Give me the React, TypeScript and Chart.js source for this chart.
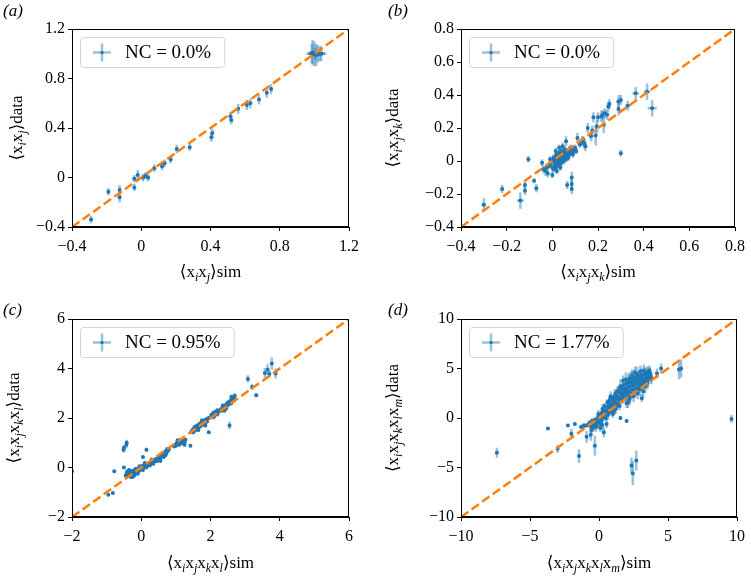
import React, { useEffect, useRef } from "react";
import { Chart, registerables } from "chart.js";
Chart.register(...registerables);

type Pt = [number, number, number, number]; // sim, data, simErr, dataErr

const SERIF = "'Liberation Serif', 'DejaVu Serif', 'Times New Roman', serif";
const BLUE = "#1f77b4";
const ERR = "rgba(31,119,180,0.45)";
const ORANGE = "#ff7f0e";

// ---- tick values ----
const ticksA = [-0.4, 0, 0.4, 0.8, 1.2];
const ticksB = [-0.4, -0.2, 0, 0.2, 0.4, 0.6, 0.8];
const ticksC = [-2, 0, 2, 4, 6];
const ticksD = [-10, -5, 0, 5, 10];

// ---- legend / panel labels ----
const legendA = "NC = 0.0%";
const legendB = "NC = 0.0%";
const legendC = "NC = 0.95%";
const legendD = "NC = 1.77%";
const panelLabels = ["(a)", "(b)", "(c)", "(d)"];

// ---- axis title pieces: [text, isSubscript] ----
const segsA: [string, boolean][] = [["\u27E8x", false], ["i", true], ["x", false], ["j", true], ["\u27E9", false]];
const segsB: [string, boolean][] = [["\u27E8x", false], ["i", true], ["x", false], ["j", true], ["x", false], ["k", true], ["\u27E9", false]];
const segsC: [string, boolean][] = [["\u27E8x", false], ["i", true], ["x", false], ["j", true], ["x", false], ["k", true], ["x", false], ["l", true], ["\u27E9", false]];
const segsD: [string, boolean][] = [["\u27E8x", false], ["i", true], ["x", false], ["j", true], ["x", false], ["k", true], ["x", false], ["l", true], ["x", false], ["m", true], ["\u27E9", false]];

// ---- data: [sim, data, simErr, dataErr] ----
const pointsA: Pt[] = [
  [-0.29, -0.34, 0.01, 0.03], [-0.19, -0.115, 0.005, 0.03], [-0.125, -0.1, 0.005, 0.04],
  [-0.125, -0.16, 0.005, 0.04], [-0.04, -0.08, 0.005, 0.03], [-0.04, -0.01, 0.01, 0.03],
  [-0.02, 0.02, 0.005, 0.04], [0.01, 0.0, 0.01, 0.03], [0.025, 0.015, 0.005, 0.03],
  [0.04, 0.0, 0.005, 0.03], [0.075, 0.075, 0.005, 0.03], [0.12, 0.09, 0.005, 0.03],
  [0.135, 0.115, 0.005, 0.03], [0.17, 0.145, 0.005, 0.03], [0.205, 0.23, 0.005, 0.035],
  [0.28, 0.245, 0.005, 0.03], [0.405, 0.325, 0.005, 0.035], [0.41, 0.36, 0.005, 0.035],
  [0.515, 0.495, 0.005, 0.035], [0.52, 0.465, 0.005, 0.035], [0.56, 0.555, 0.005, 0.04],
  [0.61, 0.585, 0.005, 0.04], [0.63, 0.6, 0.005, 0.04], [0.68, 0.63, 0.005, 0.04],
  [0.725, 0.685, 0.005, 0.04], [0.75, 0.715, 0.005, 0.04],
  [0.985, 1.0, 0.03, 0.08], [1.0, 1.0, 0.04, 0.1], [1.01, 0.99, 0.03, 0.09],
  [1.02, 1.0, 0.05, 0.07], [1.03, 1.0, 0.03, 0.06], [0.99, 1.01, 0.02, 0.1],
  [1.005, 1.0, 0.04, 0.05], [1.04, 1.0, 0.02, 0.06],
];

const pointsB: Pt[] = [
  [-0.3, -0.265, 0.01, 0.04], [-0.22, -0.17, 0.005, 0.025], [-0.14, -0.24, 0.015, 0.05],
  [-0.12, -0.145, 0.005, 0.025], [-0.12, -0.18, 0.005, 0.025], [-0.105, 0.01, 0.005, 0.02],
  [-0.08, -0.12, 0.005, 0.015], [-0.07, -0.165, 0.005, 0.025], [-0.045, -0.01, 0.005, 0.02],
  [-0.04, -0.05, 0.005, 0.025], [-0.03, -0.06, 0.005, 0.03], [-0.025, -0.04, 0.005, 0.02],
  [-0.02, -0.075, 0.005, 0.025], [0.0, -0.085, 0.005, 0.02], [0.065, -0.145, 0.005, 0.025],
  [0.085, -0.1, 0.005, 0.035], [0.085, -0.14, 0.005, 0.03], [0.085, -0.17, 0.005, 0.03],
  [0.06, 0.12, 0.005, 0.03], [0.11, 0.14, 0.005, 0.03], [0.13, 0.12, 0.005, 0.03],
  [0.14, 0.105, 0.005, 0.03], [0.145, 0.09, 0.005, 0.03], [0.155, 0.2, 0.005, 0.03],
  [0.17, 0.15, 0.005, 0.03], [0.175, 0.185, 0.005, 0.03], [0.18, 0.265, 0.005, 0.03],
  [0.19, 0.155, 0.005, 0.06], [0.195, 0.21, 0.005, 0.04], [0.2, 0.265, 0.005, 0.03],
  [0.215, 0.27, 0.005, 0.035], [0.22, 0.28, 0.005, 0.03], [0.225, 0.22, 0.008, 0.05],
  [0.23, 0.29, 0.005, 0.03], [0.24, 0.28, 0.005, 0.03], [0.245, 0.33, 0.005, 0.03],
  [0.25, 0.345, 0.005, 0.03], [0.29, 0.315, 0.008, 0.04], [0.29, 0.36, 0.01, 0.04],
  [0.3, 0.37, 0.005, 0.03], [0.3, 0.047, 0.005, 0.02], [0.33, 0.335, 0.01, 0.03],
  [0.365, 0.41, 0.015, 0.04], [0.415, 0.42, 0.015, 0.05], [0.437, 0.32, 0.02, 0.05],
  [0.09, 0.07, 0.005, 0.02], [0.1, 0.08, 0.005, 0.02], [0.105, 0.06, 0.005, 0.02],
  [0.12, 0.1, 0.005, 0.02], [0.125, 0.11, 0.005, 0.02], [0.135, 0.13, 0.005, 0.02],
  [0.0, 0.0, 0.005, 0.02], [0.005, 0.02, 0.005, 0.02], [0.01, 0.01, 0.005, 0.02],
  [0.01, -0.01, 0.005, 0.02], [0.015, 0.03, 0.005, 0.02], [0.02, 0.0, 0.005, 0.02],
  [0.02, 0.04, 0.005, 0.02], [0.025, 0.02, 0.005, 0.02], [0.03, 0.05, 0.005, 0.02],
  [0.03, 0.01, 0.005, 0.02], [0.035, 0.03, 0.005, 0.02], [0.04, 0.06, 0.005, 0.02],
  [0.04, 0.02, 0.005, 0.02], [0.045, 0.04, 0.005, 0.02], [0.05, 0.05, 0.005, 0.02],
  [0.05, 0.03, 0.005, 0.02], [0.055, 0.07, 0.005, 0.02], [0.06, 0.04, 0.005, 0.02],
  [0.065, 0.06, 0.005, 0.02], [0.07, 0.05, 0.005, 0.02], [0.075, 0.07, 0.005, 0.02],
  [0.08, 0.08, 0.005, 0.02], [-0.01, -0.02, 0.005, 0.02], [-0.01, 0.01, 0.005, 0.02],
  [-0.015, -0.03, 0.005, 0.02], [0.0, -0.04, 0.005, 0.02], [0.005, -0.05, 0.005, 0.02],
  [0.01, -0.02, 0.005, 0.02], [0.015, -0.04, 0.005, 0.02], [0.02, -0.03, 0.005, 0.02],
  [0.025, -0.01, 0.005, 0.02], [0.03, -0.02, 0.005, 0.02], [0.035, 0.0, 0.005, 0.02],
  [0.04, -0.01, 0.005, 0.02], [0.045, 0.01, 0.005, 0.02], [0.05, 0.0, 0.005, 0.02],
  [0.055, 0.02, 0.005, 0.02], [0.06, 0.01, 0.005, 0.02], [0.065, 0.03, 0.005, 0.02],
  [0.07, 0.02, 0.005, 0.02], [0.075, 0.04, 0.005, 0.02], [0.085, 0.05, 0.005, 0.02],
  [0.09, 0.04, 0.005, 0.02], [0.095, 0.06, 0.005, 0.02], [0.015, 0.06, 0.005, 0.02],
  [0.03, 0.08, 0.005, 0.02], [0.045, 0.09, 0.005, 0.02], [0.02, -0.06, 0.005, 0.02],
  [0.035, -0.04, 0.005, 0.02],
];

const pointsC: Pt[] = [
  [-2.0, -0.15, 0.02, 0.08], [-0.95, -1.1, 0.02, 0.05], [-0.82, -1.03, 0.02, 0.05],
  [-0.78, -0.15, 0.02, 0.04], [-0.51, 0.72, 0.02, 0.12], [-0.5, 0.8, 0.02, 0.1],
  [-0.43, 0.92, 0.02, 0.15], [-0.42, 1.0, 0.02, 0.12], [-0.5, 0.0, 0.02, 0.04],
  [0.15, 0.72, 0.02, 0.08], [0.05, 0.42, 0.02, 0.04], [0.55, 0.26, 0.02, 0.04],
  [-0.45, -0.32, 0.02, 0.06], [-0.42, -0.22, 0.02, 0.06], [-0.4, -0.28, 0.02, 0.06],
  [-0.38, -0.18, 0.02, 0.06], [-0.36, -0.3, 0.02, 0.06], [-0.34, -0.24, 0.02, 0.06],
  [-0.32, -0.35, 0.02, 0.06], [-0.3, -0.2, 0.02, 0.06], [-0.28, -0.27, 0.02, 0.06],
  [-0.27, -0.15, 0.02, 0.06], [-0.25, -0.3, 0.02, 0.06], [-0.23, -0.22, 0.02, 0.06],
  [-0.22, -0.12, 0.02, 0.06], [-0.2, -0.25, 0.02, 0.06], [-0.18, -0.18, 0.02, 0.06],
  [-0.17, -0.08, 0.02, 0.06], [-0.15, -0.2, 0.02, 0.06], [-0.13, -0.12, 0.02, 0.06],
  [-0.12, -0.22, 0.02, 0.06], [-0.1, -0.1, 0.02, 0.06], [-0.08, -0.15, 0.02, 0.06],
  [-0.07, -0.05, 0.02, 0.06], [-0.05, -0.12, 0.02, 0.06], [-0.03, -0.02, 0.02, 0.06],
  [-0.02, -0.08, 0.02, 0.06], [0.0, 0.0, 0.02, 0.06], [0.0, -0.06, 0.02, 0.06],
  [-0.25, -0.38, 0.02, 0.06], [-0.15, -0.05, 0.02, 0.06], [-0.35, -0.1, 0.02, 0.06],
  [0.02, 0.05, 0.02, 0.06], [0.04, -0.02, 0.02, 0.06], [0.06, 0.08, 0.02, 0.06],
  [0.08, 0.02, 0.02, 0.06], [0.1, 0.1, 0.02, 0.06], [0.12, 0.05, 0.02, 0.06],
  [0.14, 0.12, 0.02, 0.06], [0.16, 0.08, 0.02, 0.06], [0.18, 0.15, 0.02, 0.06],
  [0.2, 0.1, 0.02, 0.06], [0.22, 0.18, 0.02, 0.06], [0.24, 0.14, 0.02, 0.06],
  [0.26, 0.2, 0.02, 0.06], [0.28, 0.17, 0.02, 0.06], [0.3, 0.24, 0.02, 0.06],
  [0.32, 0.2, 0.02, 0.06], [0.35, 0.27, 0.02, 0.06], [0.38, 0.25, 0.02, 0.06],
  [0.4, 0.32, 0.02, 0.06], [0.42, 0.3, 0.02, 0.06], [0.45, 0.36, 0.02, 0.06],
  [0.48, 0.34, 0.02, 0.06], [0.5, 0.4, 0.02, 0.06], [0.52, 0.45, 0.02, 0.06],
  [0.55, 0.42, 0.02, 0.06], [0.58, 0.5, 0.02, 0.06], [0.6, 0.47, 0.02, 0.06],
  [0.63, 0.55, 0.02, 0.06], [0.65, 0.52, 0.02, 0.06], [0.68, 0.6, 0.02, 0.06],
  [0.7, 0.65, 0.02, 0.06], [0.72, 0.58, 0.02, 0.06], [0.74, 0.7, 0.02, 0.06],
  [0.76, 0.66, 0.02, 0.06], [0.78, 0.72, 0.02, 0.06], [0.8, 0.75, 0.02, 0.06],
  [0.75, 0.75, 0.02, 0.06], [0.95, 0.85, 0.02, 0.06], [0.98, 0.92, 0.02, 0.06],
  [1.0, 0.88, 0.02, 0.06], [1.02, 0.98, 0.02, 0.06], [1.05, 0.95, 0.02, 0.06],
  [1.08, 1.02, 0.02, 0.06], [1.1, 0.92, 0.02, 0.06], [1.12, 1.05, 0.02, 0.06],
  [1.15, 1.0, 0.02, 0.06], [1.18, 1.08, 0.02, 0.06], [1.2, 0.98, 0.02, 0.06],
  [1.22, 1.1, 0.02, 0.06], [1.25, 1.02, 0.02, 0.06], [1.28, 1.12, 0.02, 0.06],
  [1.42, 0.88, 0.02, 0.06], [1.45, 1.45, 0.02, 0.08], [1.48, 1.52, 0.02, 0.08],
  [1.5, 1.42, 0.02, 0.08], [1.52, 1.58, 0.02, 0.08], [1.55, 1.5, 0.02, 0.08],
  [1.58, 1.62, 0.02, 0.08], [1.6, 1.55, 0.02, 0.08], [1.62, 1.7, 0.02, 0.08],
  [1.65, 1.6, 0.02, 0.08], [1.68, 1.75, 0.02, 0.08], [1.7, 1.66, 0.02, 0.08],
  [1.72, 1.8, 0.02, 0.08], [1.75, 1.72, 0.02, 0.08], [1.78, 1.85, 0.02, 0.08],
  [1.8, 1.78, 0.02, 0.08], [1.82, 1.9, 0.02, 0.08], [1.85, 1.82, 0.02, 0.08],
  [1.88, 1.95, 0.02, 0.08], [1.9, 1.86, 0.02, 0.08], [1.95, 1.42, 0.02, 0.06],
  [2.02, 2.12, 0.02, 0.1], [2.05, 2.05, 0.02, 0.1], [2.08, 2.2, 0.02, 0.1],
  [2.1, 2.15, 0.02, 0.1], [2.15, 2.25, 0.02, 0.1], [2.18, 2.2, 0.02, 0.1],
  [2.2, 2.3, 0.02, 0.1], [2.25, 2.28, 0.02, 0.1], [2.3, 2.35, 0.02, 0.1],
  [2.32, 2.3, 0.02, 0.1], [2.38, 2.4, 0.02, 0.1], [2.42, 2.45, 0.02, 0.1],
  [2.45, 2.55, 0.02, 0.1], [2.48, 2.5, 0.02, 0.1], [2.5, 2.62, 0.02, 0.1],
  [2.52, 2.55, 0.02, 0.1], [2.55, 2.65, 0.02, 0.1], [2.58, 2.7, 0.02, 0.1],
  [2.6, 2.6, 0.02, 0.1], [2.62, 2.75, 0.02, 0.1], [2.65, 2.8, 0.02, 0.1],
  [2.68, 2.85, 0.02, 0.1], [2.7, 2.9, 0.02, 0.1], [2.55, 1.7, 0.02, 0.15],
  [3.08, 3.58, 0.03, 0.15], [3.2, 3.25, 0.03, 0.12], [3.32, 2.92, 0.03, 0.08],
  [3.57, 3.82, 0.03, 0.2], [3.65, 3.95, 0.03, 0.22], [3.77, 4.2, 0.03, 0.25],
  [3.88, 3.8, 0.03, 0.2], [3.7, 3.78, 0.03, 0.15],
  [-0.4, -0.15, 0.02, 0.06], [-0.3, -0.38, 0.02, 0.06], [-0.2, -0.32, 0.02, 0.06],
  [-0.1, -0.25, 0.02, 0.06], [0.05, -0.1, 0.02, 0.06], [0.15, 0.0, 0.02, 0.06],
  [0.25, 0.08, 0.02, 0.06], [0.35, 0.15, 0.02, 0.06], [0.45, 0.25, 0.02, 0.06],
  [0.55, 0.33, 0.02, 0.06], [0.65, 0.42, 0.02, 0.06], [0.7, 0.5, 0.02, 0.06],
  [0.3, 0.32, 0.02, 0.06], [0.1, 0.18, 0.02, 0.06], [-0.05, 0.05, 0.02, 0.06],
  [1.05, 1.1, 0.02, 0.06], [1.15, 1.12, 0.02, 0.06], [1.25, 0.92, 0.02, 0.06],
  [1.55, 1.65, 0.02, 0.08], [1.65, 1.52, 0.02, 0.08], [1.75, 1.9, 0.02, 0.08],
  [1.85, 1.7, 0.02, 0.08], [1.95, 2.0, 0.02, 0.08], [2.1, 2.05, 0.02, 0.1],
  [2.2, 2.15, 0.02, 0.1], [2.35, 2.5, 0.02, 0.1], [2.45, 2.38, 0.02, 0.1],
  [2.6, 2.85, 0.02, 0.1], [2.68, 2.72, 0.02, 0.1], [2.4, 2.3, 0.02, 0.1],
];

const pointsD: Pt[] = [
  [-7.4, -3.5, 0.1, 0.5], [-3.7, -1.05, 0.05, 0.15], [-3.0, -3.1, 0.1, 0.4],
  [-2.25, -0.75, 0.05, 0.15], [-2.0, -1.6, 0.05, 0.5], [-1.75, -0.6, 0.05, 0.15],
  [-1.45, -3.85, 0.05, 0.7], [-1.15, -0.8, 0.05, 0.3], [-0.9, -1.9, 0.05, 0.6],
  [-0.6, -1.7, 0.05, 0.6], [-0.3, -2.8, 0.05, 1.0], [0.35, -1.45, 0.05, 0.5],
  [0.1, -1.0, 0.05, 0.4], [1.55, 0.0, 0.05, 0.2], [2.0, -0.3, 0.05, 0.2],
  [2.35, -4.8, 0.05, 0.8], [2.45, -5.6, 0.05, 1.2], [2.7, -4.3, 0.05, 1.0],
  [4.5, 5.0, 0.05, 0.5], [5.8, 4.9, 0.1, 1.0], [5.95, 5.0, 0.1, 0.9],
  [9.6, -0.1, 0.05, 0.4], [-1.3, -0.9, 0.05, 0.2], [-1.0, -0.75, 0.05, 0.2],
  [-0.8, -0.7, 0.05, 0.3], [-0.7, -0.5, 0.05, 0.3], [-0.6, -0.8, 0.05, 0.3],
  [-0.5, -0.3, 0.05, 0.3], [-0.4, -0.6, 0.05, 0.3], [-0.3, -0.2, 0.05, 0.3],
  [-0.2, -0.5, 0.05, 0.3], [-0.1, 0.0, 0.05, 0.3], [0.0, -0.3, 0.05, 0.3],
  [0.0, 0.3, 0.05, 0.3], [-0.15, -0.8, 0.05, 0.4], [-0.45, -1.0, 0.05, 0.4],
  [0.1, 0.2, 0.05, 0.3], [0.2, 0.5, 0.05, 0.3], [0.2, -0.2, 0.05, 0.3],
  [0.3, 0.8, 0.05, 0.3], [0.3, 0.1, 0.05, 0.3], [0.4, 0.4, 0.05, 0.3],
  [0.4, 1.2, 0.05, 0.3], [0.5, 0.7, 0.05, 0.3], [0.5, 0.0, 0.05, 0.3],
  [0.6, 1.0, 0.05, 0.3], [0.6, 1.6, 0.05, 0.3], [0.7, 0.5, 0.05, 0.3],
  [0.7, 1.3, 0.05, 0.3], [0.8, 1.0, 0.05, 0.3], [0.8, 1.9, 0.05, 0.3],
  [0.9, 0.6, 0.05, 0.3], [0.9, 1.4, 0.05, 0.3], [1.0, 1.1, 0.05, 0.3],
  [1.0, 2.0, 0.05, 0.3], [0.15, -0.6, 0.05, 0.4], [0.55, -0.6, 0.05, 0.4],
  [1.1, 1.5, 0.05, 0.4], [1.1, 0.7, 0.05, 0.4], [1.2, 1.9, 0.05, 0.4],
  [1.2, 2.5, 0.05, 0.4], [1.3, 1.2, 0.05, 0.4], [1.3, 2.2, 0.05, 0.4],
  [1.4, 1.6, 0.05, 0.4], [1.4, 2.8, 0.05, 0.4], [1.5, 2.0, 0.05, 0.4],
  [1.5, 1.2, 0.05, 0.4], [1.6, 2.5, 0.05, 0.4], [1.6, 3.0, 0.05, 0.4],
  [1.7, 1.8, 0.05, 0.4], [1.7, 2.3, 0.05, 0.4], [1.8, 2.7, 0.05, 0.4],
  [1.8, 3.3, 0.05, 0.4], [1.9, 2.0, 0.05, 0.4], [1.9, 2.9, 0.05, 0.4],
  [2.0, 2.4, 0.05, 0.4], [2.0, 3.5, 0.05, 0.4], [1.75, 3.8, 0.05, 0.5],
  [2.1, 2.7, 0.05, 0.6], [2.1, 1.6, 0.05, 0.6], [2.2, 3.2, 0.05, 0.6],
  [2.2, 4.0, 0.05, 0.6], [2.3, 2.5, 0.05, 0.6], [2.3, 3.6, 0.05, 0.6],
  [2.4, 2.9, 0.05, 0.6], [2.4, 4.3, 0.05, 0.6], [2.5, 3.3, 0.05, 0.6],
  [2.5, 2.2, 0.05, 0.6], [2.6, 3.7, 0.05, 0.6], [2.6, 4.6, 0.05, 0.6],
  [2.7, 3.0, 0.05, 0.6], [2.7, 4.0, 0.05, 0.6], [2.8, 3.5, 0.05, 0.6],
  [2.8, 2.5, 0.05, 0.6], [2.9, 4.2, 0.05, 0.6], [2.9, 3.2, 0.05, 0.6],
  [3.0, 3.8, 0.05, 0.6], [3.0, 4.7, 0.05, 0.6], [3.1, 3.4, 0.05, 0.6],
  [3.1, 4.3, 0.05, 0.6], [3.2, 3.9, 0.05, 0.6], [3.2, 2.7, 0.05, 0.6],
  [3.3, 4.5, 0.05, 0.6], [3.3, 3.6, 0.05, 0.6], [3.4, 4.0, 0.05, 0.6],
  [3.5, 4.6, 0.05, 0.6], [3.5, 3.5, 0.05, 0.6], [3.6, 4.2, 0.05, 0.6],
  [3.7, 4.5, 0.05, 0.6], [3.8, 4.0, 0.05, 0.6], [3.1, 2.0, 0.05, 0.4],
  [4.2, 4.5, 0.05, 0.5],
  [0.25, 0.9, 0.05, 0.5], [0.45, 0.2, 0.05, 0.4], [0.65, 0.3, 0.05, 0.5],
  [0.75, 1.7, 0.05, 0.5], [0.85, 2.2, 0.05, 0.5], [0.95, 0.9, 0.05, 0.5],
  [1.05, 1.7, 0.05, 0.5], [1.15, 2.3, 0.05, 0.6], [1.25, 1.4, 0.05, 0.6],
  [1.35, 2.6, 0.05, 0.6], [1.45, 1.9, 0.05, 0.6], [1.55, 3.2, 0.05, 0.7],
  [1.65, 2.1, 0.05, 0.6], [1.75, 2.9, 0.05, 0.7], [1.85, 2.4, 0.05, 0.7],
  [1.95, 3.9, 0.05, 0.7], [2.05, 3.0, 0.05, 0.8], [2.15, 3.6, 0.05, 0.8],
  [2.25, 2.2, 0.05, 0.7], [2.35, 3.9, 0.05, 0.8], [2.45, 3.4, 0.05, 0.8],
  [2.55, 4.0, 0.05, 0.8], [2.65, 2.8, 0.05, 0.7], [2.75, 4.4, 0.05, 0.8],
  [2.85, 3.9, 0.05, 0.8], [2.95, 2.9, 0.05, 0.7], [3.05, 4.2, 0.05, 0.8],
  [3.15, 3.7, 0.05, 0.8], [3.25, 4.8, 0.05, 0.6], [3.35, 3.2, 0.05, 0.7],
  [3.45, 4.3, 0.05, 0.8], [3.55, 3.9, 0.05, 0.8], [3.65, 4.8, 0.05, 0.5],
  [3.75, 4.2, 0.05, 0.6], [2.0, 1.5, 0.05, 0.5], [2.2, 1.9, 0.05, 0.6],
  [1.0, 0.4, 0.05, 0.4], [1.2, 0.9, 0.05, 0.5], [0.05, -0.5, 0.05, 0.5],
  [-0.05, 0.4, 0.05, 0.4], [-0.25, -0.9, 0.05, 0.5], [0.25, -0.7, 0.05, 0.5],
  [-0.55, -1.2, 0.05, 0.4],
];

const fmt = (v: number) =>
  v === 0 ? "0" : (v < 0 ? "\u2212" : "") + String(Math.abs(Math.round(v * 100) / 100));

interface Panel {
  left: number; top: number; w: number; h: number;
  pl: number; pt: number; pr: number; pb: number;
  ticks: number[]; points: Pt[]; legend: string; label: string;
  segs: [string, boolean][]; yTitleX: number; xTitleY: number; labelX: number; labelY: number;
}

const panels: Panel[] = [
  { left: 0, top: 0, w: 375, h: 290, pl: 72, pt: 29, pr: 349, pb: 227, ticks: ticksA, points: pointsA, legend: legendA, label: panelLabels[0], segs: segsA, yTitleX: 22, xTitleY: 277, labelX: 3, labelY: 16 },
  { left: 375, top: 0, w: 376, h: 290, pl: 86, pt: 29, pr: 364, pb: 227, ticks: ticksB, points: pointsB, legend: legendB, label: panelLabels[1], segs: segsB, yTitleX: 23, xTitleY: 277, labelX: 13, labelY: 16 },
  { left: 0, top: 290, w: 375, h: 291, pl: 72, pt: 29, pr: 349, pb: 227, ticks: ticksC, points: pointsC, legend: legendC, label: panelLabels[2], segs: segsC, yTitleX: 19, xTitleY: 278, labelX: 3, labelY: 25 },
  { left: 375, top: 290, w: 376, h: 291, pl: 86, pt: 29, pr: 364, pb: 227, ticks: ticksD, points: pointsD, legend: legendD, label: panelLabels[3], segs: segsD, yTitleX: 23, xTitleY: 278, labelX: 13, labelY: 25 },
];

const MAIN_FONT = `17px ${SERIF}`;
const SUB_FONT = `italic 12px ${SERIF}`;

function drawSegs(ctx: CanvasRenderingContext2D, segs: [string, boolean][], cx: number, baseline: number, rotate: boolean) {
  const widths = segs.map(([t, sub]) => { ctx.font = sub ? SUB_FONT : MAIN_FONT; return ctx.measureText(t).width; });
  const total = widths.reduce((a, b) => a + b, 0);
  ctx.save();
  if (rotate) { ctx.translate(baseline, cx); ctx.rotate(-Math.PI / 2); }
  else { ctx.translate(cx, baseline); }
  ctx.fillStyle = "#000";
  ctx.textBaseline = "alphabetic";
  ctx.textAlign = "left";
  let x = -total / 2;
  segs.forEach(([t, sub], i) => {
    ctx.font = sub ? SUB_FONT : MAIN_FONT;
    ctx.fillText(t, x, sub ? 4 : 0);
    x += widths[i];
  });
  ctx.restore();
}

function ChartPanel({ p }: { p: Panel }) {
  const ref = useRef<HTMLCanvasElement>(null);
  useEffect(() => {
    const canvas = ref.current!;
    const min = p.ticks[0];
    const max = p.ticks[p.ticks.length - 1];

    const errPlugin = {
      id: "errbars",
      beforeDatasetsDraw(chart: any) {
        const { ctx, chartArea, scales } = chart;
        const xs = scales.x, ys = scales.y;
        ctx.save();
        ctx.beginPath();
        ctx.rect(chartArea.left, chartArea.top, chartArea.right - chartArea.left, chartArea.bottom - chartArea.top);
        ctx.clip();
        ctx.strokeStyle = ERR;
        ctx.lineWidth = 2.5;
        for (const d of chart.data.datasets[1].data as any[]) {
          const px = xs.getPixelForValue(d.x), py = ys.getPixelForValue(d.y);
          ctx.beginPath();
          ctx.moveTo(xs.getPixelForValue(d.x - d.xe), py);
          ctx.lineTo(xs.getPixelForValue(d.x + d.xe), py);
          ctx.stroke();
          ctx.beginPath();
          ctx.moveTo(px, ys.getPixelForValue(d.y - d.ye));
          ctx.lineTo(px, ys.getPixelForValue(d.y + d.ye));
          ctx.stroke();
        }
        ctx.restore();
      },
    };

    const decoPlugin = {
      id: "deco",
      afterDraw(chart: any) {
        const { ctx, chartArea } = chart;
        ctx.save();
        // frame
        ctx.strokeStyle = "#000";
        ctx.lineWidth = 1;
        ctx.strokeRect(Math.round(chartArea.left) + 0.5, Math.round(chartArea.top) + 0.5,
          Math.round(chartArea.right - chartArea.left) - 1, Math.round(chartArea.bottom - chartArea.top) - 1);
        // legend
        ctx.font = `19px ${SERIF}`;
        const tw = ctx.measureText(p.legend).width;
        const bx = chartArea.left + 8, by = chartArea.top + 8;
        const bw = 45 + tw + 13, bh = 30;
        ctx.beginPath();
        (ctx as any).roundRect(bx + 0.5, by + 0.5, bw, bh, 3);
        ctx.fillStyle = "rgba(255,255,255,0.8)";
        ctx.fill();
        ctx.strokeStyle = "#d5d5d5";
        ctx.stroke();
        const mx = bx + 22, my = by + bh / 2 + 0.5;
        ctx.strokeStyle = ERR;
        ctx.lineWidth = 2.5;
        ctx.beginPath(); ctx.moveTo(mx - 9, my); ctx.lineTo(mx + 9, my); ctx.stroke();
        ctx.beginPath(); ctx.moveTo(mx, my - 9); ctx.lineTo(mx, my + 9); ctx.stroke();
        ctx.fillStyle = BLUE;
        ctx.beginPath(); ctx.arc(mx, my, 1.6, 0, Math.PI * 2); ctx.fill();
        ctx.fillStyle = "#000";
        ctx.textBaseline = "middle";
        ctx.textAlign = "left";
        ctx.fillText(p.legend, bx + 45, my + 1);
        // panel label
        ctx.font = `italic 17px ${SERIF}`;
        ctx.textBaseline = "alphabetic";
        ctx.fillText(p.label, p.labelX, p.labelY);
        ctx.restore();
        // axis titles
        const cx = (chartArea.left + chartArea.right) / 2;
        const cy = (chartArea.top + chartArea.bottom) / 2;
        drawSegs(ctx, [...p.segs, ["sim", false]], cx, p.xTitleY, false);
        drawSegs(ctx, [...p.segs, ["data", false]], cy, p.yTitleX, true);
      },
    };

    const tickFont = { family: SERIF, size: 16 };
    const common = (ticks: number[], pad: number) => ({
      type: "linear" as const,
      min, max,
      afterBuildTicks: (s: any) => { s.ticks = ticks.map((v) => ({ value: v })); },
      grid: { drawOnChartArea: false, drawTicks: true, tickLength: 4, color: "#000", lineWidth: 1 },
      border: { display: true, color: "#000", width: 1 },
      ticks: { font: tickFont, color: "#000", padding: pad, maxRotation: 0, autoSkip: false, callback: (v: any) => fmt(Number(v)) },
    });

    const chart = new Chart(canvas, {
      type: "scatter",
      data: {
        datasets: [
          {
            data: [{ x: min, y: min }, { x: max, y: max }],
            showLine: true, borderColor: ORANGE, borderWidth: 2.5, borderDash: [9, 4],
            pointRadius: 0, order: 0,
          } as any,
          {
            data: p.points.map((q) => ({ x: q[0], y: q[1], xe: q[2], ye: q[3] })),
            pointRadius: 2, pointBackgroundColor: BLUE, pointBorderWidth: 0, borderWidth: 0, order: 1,
          } as any,
        ],
      },
      options: {
        responsive: false,
        maintainAspectRatio: false,
        animation: false,
        devicePixelRatio: 1,
        layout: { padding: { left: 0, top: p.pt, right: p.w - p.pr, bottom: 0 } },
        plugins: { legend: { display: false }, tooltip: { enabled: false } },
        events: [],
        scales: {
          x: { ...common(p.ticks, 6), position: "bottom", afterFit: (s: any) => { s.height = p.h - p.pb; } },
          y: { ...common(p.ticks, 3), position: "left", afterFit: (s: any) => { s.width = p.pl; } },
        } as any,
      },
      plugins: [errPlugin, decoPlugin],
    });
    return () => chart.destroy();
  }, [p]);
  return (
    <canvas
      ref={ref}
      width={p.w}
      height={p.h}
      style={{ position: "absolute", left: p.left, top: p.top, width: p.w, height: p.h }}
    />
  );
}

export default function App() {
  return (
    <div style={{ position: "absolute", left: 0, top: 0, width: 751, height: 581, background: "#fff" }}>
      {panels.map((p, i) => <ChartPanel key={i} p={p} />)}
    </div>
  );
}
